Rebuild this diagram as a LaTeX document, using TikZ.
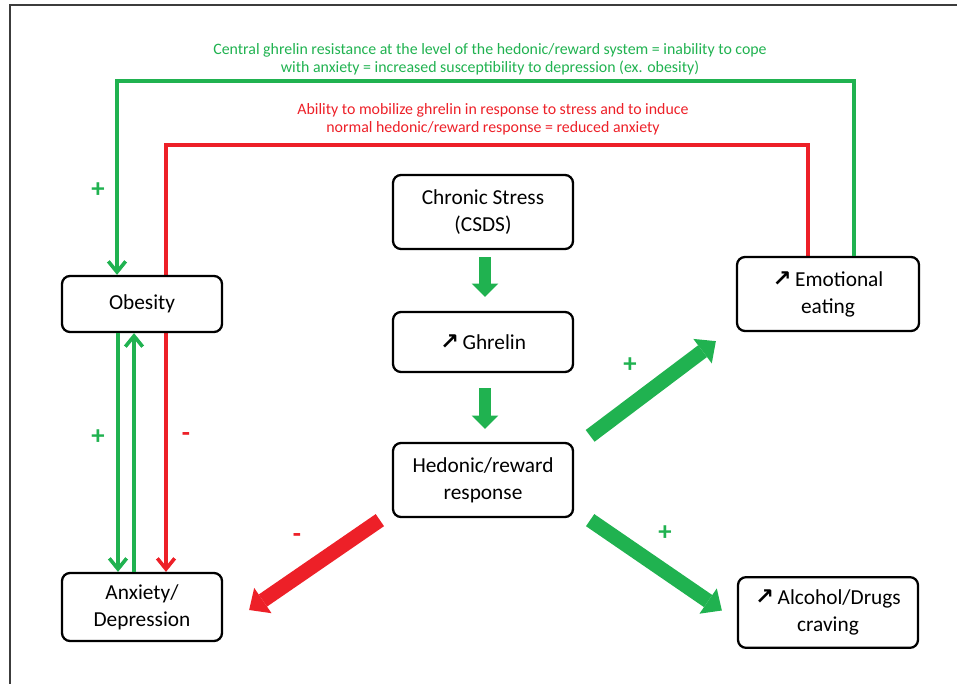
\documentclass[tikz,border=0pt]{standalone}
\usepackage{fontspec}
\setmainfont{Carlito}
\newfontfamily\arrowfont{DejaVu Sans}
\usetikzlibrary{arrows.meta,calc,backgrounds}

\definecolor{posgreen}{RGB}{32,178,80}
\definecolor{negred}{RGB}{237,32,40}
\definecolor{framegray}{RGB}{60,60,60}

% small "increase" arrow in front of a label
\newcommand{\incr}{{\arrowfont\bfseries\fontsize{17}{17}\selectfont ↗}\,}

\begin{document}
\begin{tikzpicture}[x=0.75pt,y=-0.75pt,
  box/.style={draw, rounded corners=6pt, line width=1.7pt, fill=white,
    align=center, inner sep=0pt, font=\fontsize{16}{20.25}\selectfont},
  thinarrow/.style={line width=2.7pt,
    -{Straight Barb[length=8pt,width=13pt]}},
  vblock/.style={posgreen, line width=9.5pt,
    -{Triangle[length=10pt,width=20pt,line width=0pt]}},
  dblock/.style={line width=11pt,
    -{Triangle[length=12.5pt,width=23pt,line width=0pt]}},
  sign/.style={font=\bfseries\fontsize{20}{20}\selectfont},
  note/.style={align=center, font=\fontsize{11.9}{13.7}\selectfont}
]
\useasboundingbox (0,0) rectangle (957,684);

% outer frame
\draw[framegray, line width=1.5pt] (10,690) -- (10,5) -- (962,5);

% boxes
\node[box, minimum width=135pt, minimum height=55.5pt] (stress) at (483,212) {Chronic Stress\\(CSDS)};
\node[box, minimum width=135pt, minimum height=45pt] (ghrelin) at (483,342) {\incr Ghrelin};
\node[box, minimum width=135pt, minimum height=55.5pt] (hedonic) at (483,480) {Hedonic/reward\\response};
\node[box, minimum width=120pt, minimum height=42pt] (obesity) at (142,304) {Obesity};
\node[box, minimum width=120pt, minimum height=51pt] (anxiety) at (142,607) {Anxiety/\\Depression};
\node[box, minimum width=136.5pt, minimum height=55.5pt] (emotional) at (828,294) {\incr Emotional\\eating};
\node[box, minimum width=135pt, minimum height=53pt] (alcohol) at (828,612.5) {\incr Alcohol/Drugs\\craving};

% feedback-loop notes
\node[note, text=posgreen] (gnote) at (490,59) {Central ghrelin resistance at the level of the hedonic/reward system = inability to cope\\with anxiety = increased susceptibility to depression (ex. obesity)};
\node[note, text=negred] (rnote) at (493,119) {Ability to mobilize ghrelin in response to stress and to induce\\normal hedonic/reward response = reduced anxiety};

% loop corners
\coordinate (gR) at (854,81);
\coordinate (gL) at (117,81);
\coordinate (rR) at (808,145);
\coordinate (rL) at (166,145);

% outer loops
\draw[thinarrow, posgreen] (emotional.north -| gR) -- (gR) -- (gL) -- (gL |- obesity.north);
\begin{scope}[on background layer]
  \draw[thinarrow, negred] (emotional.north -| rR) -- (rR) -- (rL) -- (rL |- anxiety.north);
\end{scope}

% obesity <-> anxiety
\draw[thinarrow, posgreen] ($(obesity.south)+(-24,0)$) -- ($(anxiety.north)+(-24,0)$);
\draw[thinarrow, posgreen] ($(anxiety.north)+(-8,0)$) -- ($(obesity.south)+(-8,0)$);

% main cascade
\draw[vblock] ($(stress.south)+(2,7)$) -- ($(ghrelin.north)+(2,-14)$);
\draw[vblock] ($(ghrelin.south)+(2,15)$) -- ($(hedonic.north)+(2,-13)$);

% outcomes of the hedonic response
\draw[dblock, posgreen] ($(hedonic.north east)+(16,-6)$) -- ($(emotional.south west)+(-20,9)$);
\draw[dblock, posgreen] ($(hedonic.south east)+(16,2)$) -- ($(alcohol.west)+(-15,-2)$);
\draw[dblock, negred] ($(hedonic.south west)+(-12,2)$) -- ($(anxiety.east)+(26,3)$);

% signs
\node[sign, text=posgreen] (p1) at (98,190) {+};
\node[sign, text=posgreen] (p2) at (98,437) {+};
\node[sign, text=negred] (m1) at (186,437) {-};
\node[sign, text=posgreen] (p3) at (630,365) {+};
\node[sign, text=posgreen] (p4) at (665,533) {+};
\node[sign, text=negred] (m2) at (297,538) {-};
\end{tikzpicture}
\end{document}
